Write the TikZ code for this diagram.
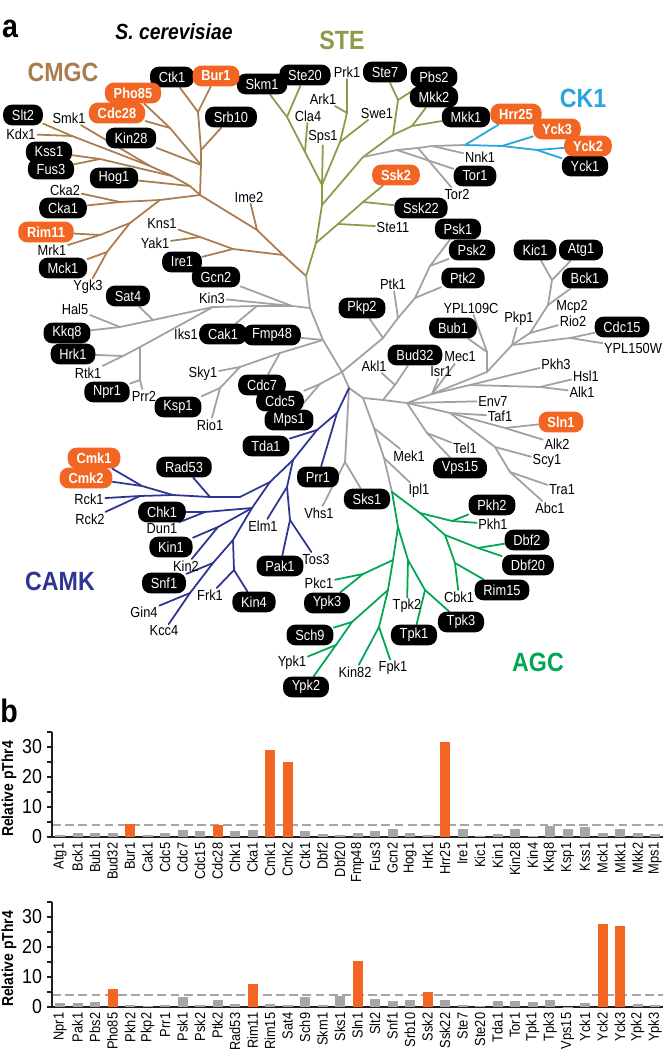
\documentclass[tikz,border=0pt]{standalone}
\usepackage{fontspec}
\setmainfont{Liberation Sans}[FakeStretch=0.88]
\usetikzlibrary{backgrounds}
\definecolor{cmgccol}{RGB}{170,125,80}
\definecolor{stecol}{RGB}{140,155,75}
\definecolor{ckcol}{RGB}{40,165,220}
\definecolor{camkcol}{RGB}{46,52,146}
\definecolor{agccol}{RGB}{0,166,81}
\definecolor{hitorange}{RGB}{242,101,34}
\definecolor{treegray}{RGB}{160,160,165}
\definecolor{kg}{RGB}{165,165,170}
\definecolor{ko}{RGB}{242,101,34}
\definecolor{axisdark}{RGB}{35,31,32}
\newcommand{\lblfont}{\fontsize{8.3}{9}\selectfont}
\newcommand{\famfont}{\fontsize{15}{16}\selectfont\bfseries}

\tikzset{
  kin/.style={inner sep=0.8pt,font=\lblfont},
  kbox/.style={kin,fill=black,text=white,rounded corners=5pt,minimum height=11.8pt,inner xsep=5pt},
  obox/.style={kbox,fill=hitorange,font=\lblfont\bfseries},
  famlabel/.style={font=\famfont},
  brline/.style={line width=1pt,line cap=round},
  cmgc/.style={brline,draw=cmgccol},
  ste/.style={brline,draw=stecol},
  ckone/.style={brline,draw=ckcol},
  camk/.style={brline,draw=camkcol},
  agc/.style={brline,draw=agccol},
  grayb/.style={brline,draw=treegray},
  axisline/.style={draw=axisdark,line width=1pt},
  thrline/.style={draw=kg,line width=0.8pt,dash pattern=on 5pt off 2.5pt},
  ticklab/.style={inner sep=1pt,font=\fontsize{11.5}{12}\selectfont},
  ylab/.style={rotate=90,font=\fontsize{9}{10}\selectfont\bfseries},
}

\begin{document}
\begin{tikzpicture}[x=0.02cm,y=-0.02cm]
\path[use as bounding box] (0,0) rectangle (665,1050);

% panel a: titles
\node[font=\fontsize{18.5}{20}\selectfont\bfseries,anchor=base] (pa) at (10,38) {a};
\node[font=\fontsize{12.5}{14}\selectfont\bfseries\itshape] (species) at (174,32) {S. cerevisiae};
\node[famlabel,text=cmgccol] (fCMGC) at (63,72) {CMGC};
\node[famlabel,text=stecol] (fSTE) at (342,40) {STE};
\node[famlabel,text=ckcol] (fCK1) at (583,98) {CK1};
\node[famlabel,text=camkcol] (fCAMK) at (60,581) {CAMK};
\node[famlabel,text=agccol] (fAGC) at (538,662) {AGC};

% kinases in black boxes
\foreach \n/\x/\y in {Ctk1/172/77, Slt2/23/115, Kin28/131/138, Srb10/231/117, Kss1/49/152,
  Fus3/51/169, Hog1/114/178, Cka1/63/208, Mck1/63/268, Ire1/182/262,
  Skm1/262/84, Ste20/305/75, Ste7/385/72, Pbs2/434/77, Mkk2/434/97, Mkk1/466/117,
  Ssk22/421/208, Tor1/475/176, Yck1/585/166,
  Gcn2/216/277, Sat4/128/296, Kkq8/67/333, Hrk1/73/354, Cak1/223/334, Fmp48/272/335,
  Cdc7/262/385, Npr1/107/392, Cdc5/280/401, Mps1/289/420, Ksp1/178/407,
  Psk1/458/229, Psk2/472/250, Ptk2/463/278, Pkp2/362/308, Kic1/535/250, Atg1/581/250,
  Bck1/585/278, Bub1/453/328, Cdc15/622/327, Bud32/415/355, Vps15/460/468, Sks1/367/499,
  Tda1/266/446, Prr1/318/477, Rad53/184/467, Chk1/162/512, Kin1/171/547, Snf1/164/583,
  Kin4/254/602, Pak1/280/566,
  Pkh2/492/505, Dbf2/527/540, Dbf20/528/565, Rim15/502/590, Tpk3/461/622, Tpk1/414/635,
  Ypk3/327/603, Sch9/310/635, Ypk2/306/687}
  \node[kbox] (\n) at (\x,\y) {\n};

% hits in orange boxes
\foreach \n/\x/\y in {Bur1/216/76, Pho85/133/93, Cdc28/117/113, Rim11/46/232, Ssk2/396/175,
  Hrr25/516/114, Yck3/557/129, Yck2/588/146, Sln1/561/422, Cmk1/94/458, Cmk2/86/478}
  \node[obox] (\n) at (\x,\y) {\n};

% plain labels
\foreach \n/\x/\y in {Smk1/69/118, Kdx1/21/134, Cka2/65/190, Mrk1/52/250, Ygk3/88/287,
  Ime2/249/197, Kns1/162/224, Yak1/155/243,
  Prk1/347/72, Ark1/323/99, Cla4/308/116, Sps1/323/137, Swe1/377/113, Ste11/393/227,
  Nnk1/480/157, Tor2/457/194,
  Kin3/212/298, Hal5/75/309, Iks1/186/334, Rtk1/88/373, Sky1/203/374, Prr2/144/396, Rio1/210/425,
  Ptk1/393/284, YPL109C/471/308, Mcp2/572/307, Rio2/573/321, Pkp1/519/319, YPL150W/633/348,
  Akl1/374/366, Mec1/460/357, Isr1/441/372, Pkh3/556/364, Hsl1/586/376, Alk1/582/392,
  Env7/493/401, Taf1/500/416, Alk2/557/444, Scy1/547/461, Tra1/562/490, Abc1/550/508,
  Tel1/465/448, Mek1/409/456, Ipl1/419/491, Vhs1/319/513,
  Rck1/89/499, Rck2/90/519, Dun1/162/529, Kin2/186/566, Frk1/210/595, Gin4/144/612,
  Kcc4/164/631, Elm1/263/526, Tos3/316/559,
  Pkh1/493/524, Cbk1/459/597, Tpk2/407/606, Pkc1/319/583, Ypk1/292/663, Kin82/355/672, Fpk1/393/668}
  \node[kin] (\n) at (\x,\y) {\n};

% branch points
\foreach \n/\x/\y in {S0/306/276,
  cA/283/255, cB/257/230, cC/200/195, cD/233/249, cE/200/237, cF/160/200, cG/120/202,
  cH/130/223, cI/100/235, cJ/107/252, cK/201/165, cL/170/128, cM/201/150, cN/198/112,
  cO/190/186, cP/172/176, cQ/100/159, cR/150/166, cS/72/136,
  sA/316/243, sB/338/224, sC/363/202, sD/322/205, sE/322/185, sF/305/152, sG/287/117,
  sH/340/142, sI/347/113, sJ/363/157, sK/393/135, sL/398/100, sM/412/126,
  gA/397/150, gB/418/148, gC/432/146, kA/465/145, kB/502/146, kC/537/150,
  tA/310/308, tB/292/306, tC/257/306, tD/213/307, tE/153/320, tF/120/327, tG/140/347,
  tH/140/380, tI/123/356, tJ/323/340, tK/280/353, tL/240/367, tM/220/388, tN/342/372,
  tO/320/384, tP/349/388,
  pA/383/338, pB/398/318, pC/415/298, pD/430/266,
  rA/363/398, rB/383/400, rC/395/385,
  uA/432/394, uB/470/385, uC/540/387, uD/487/372, uE/487/352, uF/512/345, uG/570/338,
  uH/530/333, uI/548/305, uJ/552/280,
  vA/407/403, vB/427/433, vC/450/413, vD/505/428, vE/495/447, vF/510/472,
  wA/374/428, wB/384/458, aR/392/492, xA/345/462,
  bA/337/413, bB/317/430, bC/293/460, bD/287/487, bE/290/520, bF/270/482, bG/240/497,
  bH/210/497, bI/173/495, bJ/142/486, bK/140/496, bL/252/508, bM/205/512, bN/218/527,
  bO/233/540, bP/234/570, bQ/213/563, bR/190/593,
  aA/420/513, aB/452/521, aC/445/535, aD/478/548, aE/455/563, aF/398/527, aG/408/560,
  aH/425/590, aI/393/560, aJ/363/574, aK/388/590, aL/352/622, aM/336/645, aN/379/627}
  \coordinate (\n) at (\x,\y);

\begin{scope}[on background layer]
\fill[white] (0,0) rectangle (665,1050);
% CMGC
\foreach \p/\q in {S0/cA, cA/cB, cB/Ime2, cB/cC, cA/cD, cD/Ire1, cD/cE, cE/Kns1, cE/Yak1,
  cC/cF, cF/cG, cG/Cka1, cG/Cka2, cF/cH, cH/cI, cI/Rim11, cI/Mrk1, cH/cJ, cJ/Mck1, cJ/Ygk3,
  cC/cK, cK/Kin28, cK/cL, cL/Pho85, cL/Cdc28, cK/cM, cM/Srb10, cM/cN, cN/Ctk1, cN/Bur1,
  cC/cO, cO/Hog1, cO/cP, cP/cQ, cQ/Kss1, cQ/Fus3, cP/cR, cR/Smk1, cR/cS, cS/Slt2, cS/Kdx1}
  \draw[cmgc] (\p) -- (\q);
% STE
\foreach \p/\q in {S0/sA, sA/sB, sB/Ste11, sB/sC, sC/Ssk22, sC/Ssk2, sA/sD, sD/sE, sE/Sps1,
  sE/sF, sF/Cla4, sF/sG, sG/Skm1, sG/Ste20, sE/sH, sH/Swe1, sH/sI, sI/Prk1, sI/Ark1,
  sD/sJ, sJ/sK, sK/sL, sL/Ste7, sL/Pbs2, sK/sM, sM/Mkk2, sM/Mkk1}
  \draw[ste] (\p) -- (\q);
% CK1
\foreach \p/\q in {kA/Hrr25, kA/kB, kB/Yck3, kB/kC, kC/Yck2, kC/Yck1}
  \draw[ckone] (\p) -- (\q);
% unassigned branches
\foreach \p/\q in {sJ/gA, gA/Tor1, gA/gB, gB/Tor2, gB/gC, gC/Nnk1, gC/kA,
  S0/tA, tA/tB, tB/Gcn2, tB/Kin3, tB/tC, tC/Cak1, tC/tD, tD/tE, tE/Sat4, tE/tF, tF/Hal5,
  tF/Kkq8, tD/tG, tG/tH, tH/Prr2, tH/Npr1, tG/tI, tI/Hrk1, tI/Rtk1,
  tA/tJ, tJ/Fmp48, tJ/tK, tK/Cdc7, tK/tL, tL/Sky1, tL/tM, tM/Ksp1, tM/Rio1,
  tJ/tN, tN/tO, tO/Cdc5, tO/Mps1, tN/tP,
  tN/pA, pA/Pkp2, pA/pB, pB/Ptk1, pB/pC, pC/Ptk2, pC/pD, pD/Psk2, pD/Psk1,
  tP/rA, rA/rB, rB/rC, rC/Akl1, rC/Bud32,
  rB/vA, vA/uA, uA/Isr1, uA/Mec1, uA/uB, uB/Pkh3, uB/uC, uC/Hsl1, uC/Alk1,
  uA/uD, uD/uE, uE/YPL109C, uE/Bub1, uD/uF, uF/Pkp1, uF/uG, uG/Cdc15, uG/YPL150W,
  uF/uH, uH/Rio2, uH/uI, uI/Bck1, uI/uJ, uJ/Kic1, uJ/Atg1,
  vA/Env7, vA/vB, vB/Tel1, vB/Vps15, vA/vC, vC/Taf1, vC/vD, vD/Sln1, vD/Alk2,
  vC/vE, vE/Scy1, vE/vF, vF/Tra1, vF/Abc1,
  rA/wA, wA/Mek1, wA/wB, wB/Ipl1, wB/aR, tP/xA, xA/Sks1, xA/Vhs1}
  \draw[grayb] (\p) -- (\q);
% CAMK
\foreach \p/\q in {tP/bA, bA/Prr1, bA/bB, bB/Tda1, bB/bC, bC/bD, bD/Elm1, bD/bE, bE/Pak1,
  bE/Tos3, bC/bF, bF/bG, bG/bH, bH/Rad53, bH/bI, bI/bJ, bJ/Cmk1, bJ/Cmk2, bI/bK,
  bK/Rck1, bK/Rck2, bF/bL, bL/bM, bM/Chk1, bM/Dun1, bL/bN, bN/Kin1, bN/Kin2,
  bL/bO, bO/bP, bP/Frk1, bP/Kin4, bO/bQ, bQ/Snf1, bQ/bR, bR/Gin4, bR/Kcc4}
  \draw[camk] (\p) -- (\q);
% AGC
\foreach \p/\q in {aR/aA, aA/aB, aB/Pkh2, aB/Pkh1, aA/aC, aC/aD, aD/Dbf2, aD/Dbf20,
  aC/aE, aE/Rim15, aE/Cbk1, aR/aF, aF/aG, aG/Tpk2, aG/aH, aH/Tpk1, aH/Tpk3,
  aF/aI, aI/aJ, aJ/Pkc1, aJ/Ypk3, aI/aK, aK/aL, aL/Sch9, aL/aM, aM/Ypk1, aM/Ypk2,
  aK/aN, aN/Kin82, aN/Fpk1}
  \draw[agc] (\p) -- (\q);
\end{scope}

% panel b: axes
\node[font=\fontsize{18.5}{20}\selectfont\bfseries,anchor=base] (pb) at (9,722) {b};
\foreach \yb in {837,1007}{
  \draw[thrline] (52,\yb-12) -- (663,\yb-12);
  \draw[axisline] (52,\yb-105) -- (52,\yb) -- (663,\yb);
  \foreach \t in {0,5,...,35}
    \draw[axisline] (47,\yb-3*\t) -- (52,\yb-3*\t);
  \foreach \t in {0,10,20,30}
    \node[ticklab,anchor=east] at (44,\yb-3*\t) {\t};
  \node[ylab] at (9,\yb-48) {Relative pThr4};
}

% bars, first row
\foreach \nm/\v/\c [count=\i] in {Atg1/0.6/kg, Bck1/1.5/kg, Bub1/1.4/kg, Bud32/1.2/kg,
  Bur1/4.5/ko, Cak1/0.7/kg, Cdc5/1.4/kg, Cdc7/2.2/kg, Cdc15/2.0/kg, Cdc28/4.1/ko,
  Chk1/1.9/kg, Cka1/2.3/kg, Cmk1/29.0/ko, Cmk2/25.1/ko, Ctk1/1.9/kg, Dbf2/0.9/kg,
  Dbf20/0.8/kg, Fmp48/1.4/kg, Fus3/2.0/kg, Gcn2/2.8/kg, Hog1/1.4/kg, Hrk1/0.7/kg,
  Hrr25/31.6/ko, Ire1/2.6/kg, Kic1/0.5/kg, Kin1/1.0/kg, Kin28/2.6/kg, Kin4/0.5/kg,
  Kkq8/3.6/kg, Ksp1/2.8/kg, Kss1/3.3/kg, Mck1/1.2/kg, Mkk1/2.6/kg, Mkk2/1.5/kg, Mps1/0.9/kg}{
  \pgfmathsetmacro{\xb}{60+(\i-1)*17.5}
  \fill[\c] (\xb-5,836.5) rectangle (\xb+5,837-3*\v);
  \node[kin,rotate=90,anchor=east] (ba\i) at (\xb,841) {\nm};
}

% bars, second row
\foreach \nm/\v/\c [count=\i] in {Npr1/1.3/kg, Pak1/1.4/kg, Pbs2/1.7/kg, Pho85/5.9/ko,
  Pkh2/0.6/kg, Pkp2/0.4/kg, Prr1/0.8/kg, Psk1/3.2/kg, Psk2/0.6/kg, Ptk2/2.3/kg,
  Rad53/1.0/kg, Rim11/7.8/ko, Rim15/1.0/kg, Sat4/0.6/kg, Sch9/3.2/kg, Skm1/0.6/kg,
  Sks1/3.6/kg, Sln1/15.3/ko, Slt2/2.7/kg, Snf1/1.9/kg, Srb10/2.4/kg, Ssk2/4.9/ko,
  Ssk22/2.2/kg, Ste7/0.6/kg, Ste20/0.4/kg, Tda1/1.9/kg, Tor1/2.1/kg, Tpk1/1.8/kg,
  Tpk3/2.4/kg, Vps15/0.0/kg, Yck1/1.3/kg, Yck2/27.6/ko, Yck3/27.1/ko, Ypk2/1.1/kg, Ypk3/0.6/kg}{
  \pgfmathsetmacro{\xb}{60+(\i-1)*17.5}
  \fill[\c] (\xb-5,1006.5) rectangle (\xb+5,1007-3*\v);
  \node[kin,rotate=90,anchor=east] (bb\i) at (\xb,1011) {\nm};
}
\end{tikzpicture}
\end{document}
